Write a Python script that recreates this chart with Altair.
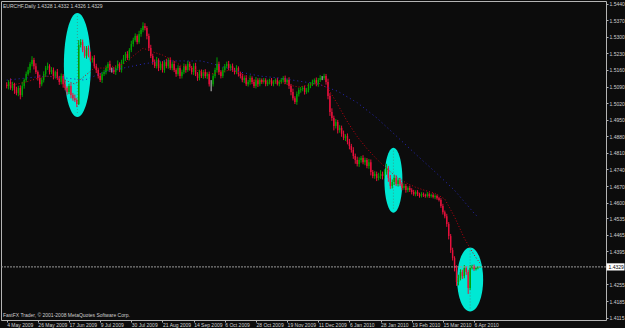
import altair as alt
import pandas as pd

# ---------------- data ----------------
first_open = 1.5096
closes = [
    1.5092, 1.5109, 1.5084, 1.5100, 1.5075, 1.5062, 1.5084, 1.5054, 1.5092, 1.5117,
    1.5143, 1.5160, 1.5185, 1.5202, 1.5176, 1.5151, 1.5126, 1.5100, 1.5117, 1.5143,
    1.5168, 1.5176, 1.5151, 1.5160, 1.5134, 1.5151, 1.5126, 1.5109, 1.5134, 1.5100,
    1.5084, 1.5067, 1.5092, 1.5054, 1.5041, 1.5033, 1.5016, 1.5265, 1.5278, 1.5244,
    1.5219, 1.5252, 1.5223, 1.5202, 1.5210, 1.5176, 1.5160, 1.5134, 1.5117, 1.5143,
    1.5151,
    1.5168, 1.5185, 1.5160, 1.5160, 1.5151, 1.5168, 1.5185, 1.5160, 1.5193, 1.5210,
    1.5227, 1.5210, 1.5244, 1.5269, 1.5286, 1.5303, 1.5278, 1.5312, 1.5328, 1.5345,
    1.5337, 1.5303, 1.5252, 1.5219, 1.5193, 1.5176, 1.5202, 1.5168, 1.5185, 1.5160,
    1.5193, 1.5176, 1.5202, 1.5168, 1.5185, 1.5160, 1.5143, 1.5168, 1.5134, 1.5151,
    1.5176, 1.5160, 1.5185, 1.5168, 1.5151, 1.5176, 1.5143, 1.5126, 1.5151, 1.5134,
    1.5151, 1.5134, 1.5143, 1.5100, 1.5100, 1.5134, 1.5160, 1.5185, 1.5151, 1.5134,
    1.5160, 1.5176, 1.5185, 1.5168, 1.5176, 1.5160, 1.5151, 1.5168, 1.5143, 1.5134,
    1.5117, 1.5126, 1.5100, 1.5109, 1.5126, 1.5109, 1.5092, 1.5117, 1.5100, 1.5117,
    1.5109, 1.5117, 1.5100, 1.5109, 1.5117, 1.5100, 1.5109, 1.5117, 1.5100, 1.5109,
    1.5117, 1.5126, 1.5109, 1.5117, 1.5092, 1.5067, 1.5041, 1.5025, 1.5058, 1.5075,
    1.5079,
    1.5084, 1.5067, 1.5075, 1.5092, 1.5100, 1.5109, 1.5117, 1.5100, 1.5117, 1.5126,
    1.5126, 1.5134, 1.5109, 1.5050, 1.4982, 1.4957, 1.4923, 1.4940, 1.4906, 1.4915,
    1.4890, 1.4873, 1.4881, 1.4856, 1.4839, 1.4822, 1.4797, 1.4780, 1.4763, 1.4780,
    1.4788, 1.4771, 1.4780, 1.4755, 1.4771, 1.4729, 1.4712, 1.4721, 1.4704, 1.4712,
    1.4721, 1.4712, 1.4729, 1.4746, 1.4704, 1.4670, 1.4687, 1.4704, 1.4679, 1.4695,
    1.4679, 1.4662, 1.4670, 1.4653, 1.4662, 1.4653, 1.4645, 1.4636, 1.4645, 1.4636,
    1.4628, 1.4636, 1.4632, 1.4628, 1.4636, 1.4628, 1.4632, 1.4624, 1.4628, 1.4619,
    1.4611, 1.4586, 1.4560, 1.4543, 1.4510, 1.4459, 1.4400, 1.4366, 1.4324, 1.4265,
    1.4282, 1.4307, 1.4290, 1.4324, 1.4307, 1.4240, 1.4324, 1.4332, 1.4320, 1.4324,
    1.4328, 1.4329,
]
# upper / lower shadow lengths in pips
wick_up = [
    12, 8, 15, 10, 6, 14, 9, 11, 18, 7,
    10, 13, 8, 16, 9, 12, 7, 14, 10, 11,
    9, 15, 8, 12, 10, 6, 13, 9, 11, 8,
    14, 7, 10, 12, 9, 15, 8, 21, 12, 10,
    16, 9, 11, 14, 8, 12, 10, 7, 13, 9,
    10,
    11, 8, 14, 10, 12, 9, 15, 7, 10, 13,
    9, 12, 8, 14, 10, 11, 7, 13, 9, 16,
    12, 8, 10, 14, 9, 11, 13, 7, 10, 12,
    8, 14, 9, 11, 10, 13, 7, 12, 9, 10,
    11, 8, 13, 10, 9, 12, 14, 8, 10, 11,
    9, 12, 8, 10, 17, 11, 9, 28, 10, 8,
    12, 9, 10, 13, 8, 11, 9, 12, 7, 10,
    10, 8, 12, 9, 11, 7, 10, 13, 8, 9,
    7, 9, 8, 10, 6, 9, 8, 7, 10, 8,
    9, 8, 10, 7, 12, 9, 14, 8, 11, 10,
    9,
    8, 10, 9, 12, 8, 10, 7, 11, 9, 12,
    8, 10, 9, 14, 12, 16, 10, 13, 9, 12,
    10, 14, 8, 11, 13, 9, 12, 10, 14, 11,
    9, 12, 10, 8, 13, 11, 9, 12, 10, 14,
    16, 10, 12, 18, 9, 13, 11, 10, 12, 8,
    10, 8, 11, 9, 7, 10, 8, 9, 7, 8,
    6, 8, 7, 6, 9, 7, 6, 8, 7, 6,
    6, 8, 9, 7, 10, 8, 9, 10, 8, 12,
    14, 12, 10, 13, 8, 10, 12, 6, 7, 5,
    4, 3,
]
wick_dn = [
    10, 14, 8, 12, 16, 9, 13, 18, 8, 11,
    9, 7, 12, 10, 14, 8, 11, 16, 9, 10,
    13, 8, 10, 9, 14, 11, 8, 12, 10, 15,
    10, 12, 9, 14, 11, 8, 13, 4, 10, 9,
    8, 12, 10, 7, 11, 9, 13, 10, 8, 12,
    9,
    10, 13, 9, 11, 8, 12, 10, 9, 11, 8,
    12, 8, 10, 9, 11, 7, 10, 8, 12, 9,
    10, 14, 12, 9, 11, 8, 10, 13, 9, 11,
    12, 9, 11, 8, 10, 9, 12, 8, 11, 10,
    9, 12, 8, 11, 10, 13, 9, 12, 10, 8,
    11, 9, 12, 10, 30, 10, 9, 11, 12, 10,
    8, 11, 9, 10, 12, 8, 10, 9, 11, 10,
    9, 12, 8, 10, 11, 9, 8, 10, 12, 9,
    8, 7, 9, 8, 10, 7, 9, 8, 6, 9,
    8, 10, 9, 11, 12, 14, 10, 9, 12, 10,
    11,
    9, 11, 8, 10, 9, 8, 10, 9, 11, 8,
    9, 8, 11, 14, 16, 12, 18, 10, 14, 11,
    12, 9, 13, 10, 14, 11, 12, 16, 10, 12,
    11, 9, 13, 10, 12, 14, 9, 11, 13, 10,
    12, 14, 10, 11, 16, 12, 10, 13, 9, 11,
    9, 10, 8, 11, 9, 8, 10, 7, 9, 8,
    7, 6, 8, 7, 6, 8, 7, 6, 9, 7,
    6, 8, 10, 9, 12, 14, 12, 10, 14, 16,
    14, 10, 12, 9, 12, 25, 8, 6, 8, 6,
    5, 2,
]

# slow moving average (blue dotted), every 10 bars
blue_idx = list(range(0, 241, 10)) + [242]
blue_ma = [1.5117, 1.5126, 1.5134, 1.5126, 1.5117, 1.5151, 1.5168, 1.5185, 1.5198,
           1.5198, 1.5198, 1.5176, 1.5151, 1.5134, 1.5126, 1.5113, 1.5100, 1.5070,
           1.5022, 1.4958, 1.4882, 1.4805, 1.4730, 1.4652, 1.4556, 1.4539]
# fast moving average (red dotted), every 5 bars
red_idx = list(range(0, 241, 5)) + [243]
red_ma = [1.5096, 1.5100, 1.5109, 1.5122, 1.5134, 1.5130, 1.5117, 1.5100, 1.5134,
          1.5168, 1.5168, 1.5176, 1.5185, 1.5219, 1.5252, 1.5236, 1.5223, 1.5202,
          1.5176, 1.5168, 1.5151, 1.5143, 1.5151, 1.5160, 1.5147, 1.5122, 1.5113,
          1.5109, 1.5109, 1.5096, 1.5088, 1.5096, 1.5105, 1.5082, 1.5014, 1.4941,
          1.4879, 1.4828, 1.4784, 1.4745, 1.4710, 1.4684, 1.4665, 1.4651, 1.4640,
          1.4615, 1.4540, 1.4450, 1.4380, 1.4345]

date_idx = list(range(0, 241, 16))
date_labels = ["4 May 2009", "26 May 2009", "17 Jun 2009", "9 Jul 2009", "30 Jul 2009",
               "21 Aug 2009", "14 Sep 2009", "6 Oct 2009", "28 Oct 2009", "19 Nov 2009",
               "11 Dec 2009", "6 Jan 2010", "28 Jan 2010", "19 Feb 2010", "15 Mar 2010",
               "6 Apr 2010"]
price_ticks = [1.5440, 1.5370, 1.5300, 1.5230, 1.5160, 1.5090, 1.5020, 1.4950, 1.4880,
               1.4810, 1.4740, 1.4670, 1.4600, 1.4535, 1.4465, 1.4395, 1.4255, 1.4185,
               1.4115]
last_price = 1.4329
title_text = "EURCHF,Daily  1.4328 1.4332 1.4326 1.4329"
copyright_text = "FastFX Trader, \u00a9 2001-2008 MetaQuotes Software Corp."

# highlighted areas (annotation ellipses): centre bar, centre price
ell_idx = [36.3, 198.6, 238.0]
ell_price = [1.5181, 1.4695, 1.4276]

# ---------------- layout / style ----------------
W, H = 605, 319
X_DOM = [-0.354, 305.2]
Y_DOM = [1.41050, 1.54508]
PX_PER_UNIT = H / (Y_DOM[1] - Y_DOM[0])
ELL_W = [27, 18, 26]
ELL_H = [104, 65, 64]
BG = "#0C0C0C"
FG = "#D0D0D0"
FONT = "Liberation Sans"

n = min(len(closes), len(wick_up), len(wick_dn))
opens = [first_open] + closes[:n - 1]
rows = []
for i in range(n):
    o, c = opens[i], closes[i]
    rows.append(dict(
        idx=i, open=o, close=c,
        high=max(o, c) + wick_up[i] / 10000.0,
        low=min(o, c) - wick_dn[i] / 10000.0,
        dir="up" if c > o else ("down" if c < o else "flat"),
    ))
candles = pd.DataFrame(rows)

blue_df = pd.DataFrame({"idx": blue_idx, "ma": blue_ma})
red_df = pd.DataFrame({"idx": red_idx, "ma": red_ma})


def ellipse_path(a):
    k = 0.5523
    return (f"M0,-1C{k*a:.4f},-1 {a:.4f},{-k:.4f} {a:.4f},0"
            f"C{a:.4f},{k:.4f} {k*a:.4f},1 0,1"
            f"C{-k*a:.4f},1 {-a:.4f},{k:.4f} {-a:.4f},0"
            f"C{-a:.4f},{-k:.4f} {-k*a:.4f},-1 0,-1Z")


ell_df = pd.DataFrame({
    "idx": ell_idx,
    "price": ell_price,
    "shape": [ellipse_path(w / h) for w, h in zip(ELL_W, ELL_H)],
    "size": [h * h for h in ELL_H],
    "top": [p + (h / 2 - 3) / PX_PER_UNIT for p, h in zip(ell_price, ELL_H)],
    "bot": [p - (h / 2 - 3) / PX_PER_UNIT for p, h in zip(ell_price, ELL_H)],
})
cur_df = pd.DataFrame({"price": [last_price], "label": [f"{last_price:.4f}"]})

label_expr = "[" + ",".join(f"'{d}'" for d in date_labels) + "][round(datum.value/16)]"

x_axis = alt.Axis(orient="bottom", values=date_idx, labelExpr=label_expr,
                  labelAlign="left", labelBaseline="top", tickSize=2,
                  labelPadding=0, labelOverlap=False, labelFlush=False, labelBound=False,
                  title=None, grid=False, domain=False)
y_axis = alt.Axis(orient="right", values=price_ticks, format=".4f", tickSize=2,
                  labelPadding=1, labelOverlap=False, labelFlush=False, labelBound=False,
                  labelBaseline="middle", title=None, grid=False, domain=False)
x_scale = alt.Scale(domain=X_DOM, nice=False, zero=False)
y_scale = alt.Scale(domain=Y_DOM, nice=False, zero=False)


def X(field):
    return alt.X(f"{field}:Q", scale=x_scale, axis=x_axis)


def Y(field):
    return alt.Y(f"{field}:Q", scale=y_scale, axis=y_axis)


color = alt.Color("dir:N", scale=alt.Scale(domain=["up", "down", "flat"],
                                           range=["#00A000", "#E8103C", "#C8C8C8"]),
                  legend=None)

ellipses = alt.Chart(ell_df).mark_point(filled=True, opacity=1, color="#00E8D4",
                                        strokeWidth=0).encode(
    x=X("idx"), y=Y("price"),
    shape=alt.Shape("shape:N", scale=None),
    size=alt.Size("size:Q", scale=None),
)
ell_lines = alt.Chart(ell_df).mark_rule(color="#3A9C8C", strokeWidth=1,
                                        strokeDash=[1, 2]).encode(
    x=X("idx"), y=Y("top"), y2="bot:Q")

wicks = alt.Chart(candles).mark_rule(strokeWidth=1).encode(
    x=X("idx"), y=Y("low"), y2="high:Q", color=color)
bodies = alt.Chart(candles).mark_bar(size=1.4).encode(
    x=X("idx"), y=Y("open"), y2="close:Q", color=color)

blue_line = alt.Chart(blue_df).mark_line(color="#2828C0", strokeWidth=1,
                                         strokeDash=[1, 3]).encode(x=X("idx"), y=Y("ma"))
red_line = alt.Chart(red_df).mark_line(color="#C00010", strokeWidth=1,
                                       strokeDash=[1, 2]).encode(x=X("idx"), y=Y("ma"))

cur_line = alt.Chart(cur_df).mark_rule(color="#9A9A9A", strokeWidth=1,
                                       strokeDash=[2, 1]).encode(y=Y("price"))
cur_box = alt.Chart(cur_df).mark_point(filled=True, opacity=1, color="#FFFFFF",
                                       strokeWidth=0,
                                       shape="M-1,-0.4H1V0.4H-1Z", size=324).encode(
    x=alt.value(614.5), y=Y("price"))
cur_text = alt.Chart(cur_df).mark_text(font=FONT, fontSize=5, color="#000000",
                                       align="left", baseline="middle").encode(
    x=alt.value(607.5), y=Y("price"), text="label:N")

title = alt.Chart(cur_df).mark_text(font=FONT, fontSize=5, color=FG, align="left",
                                    baseline="middle").encode(
    x=alt.value(2), y=alt.value(4.8), text=alt.value(title_text))
copyright_ = alt.Chart(cur_df).mark_text(font=FONT, fontSize=5, color=FG, align="left",
                                         baseline="middle").encode(
    x=alt.value(2), y=alt.value(314), text=alt.value(copyright_text))

chart = alt.layer(
    ellipses, ell_lines, wicks, bodies, blue_line, red_line,
    cur_line, cur_box, cur_text, title, copyright_,
).properties(
    width=W, height=H, background=BG,
    padding={"left": 1, "top": 1, "right": 19, "bottom": 8},
    autosize=alt.AutoSizeParams(type="none"),
).configure_view(
    stroke="#B4B4B4", strokeWidth=1, fill=BG,
).configure_axis(
    labelFont=FONT, labelFontSize=5, labelColor=FG, tickColor="#B4B4B4", tickWidth=1,
)

chart.save("out.html", embed_options={"renderer": "svg", "actions": False})
